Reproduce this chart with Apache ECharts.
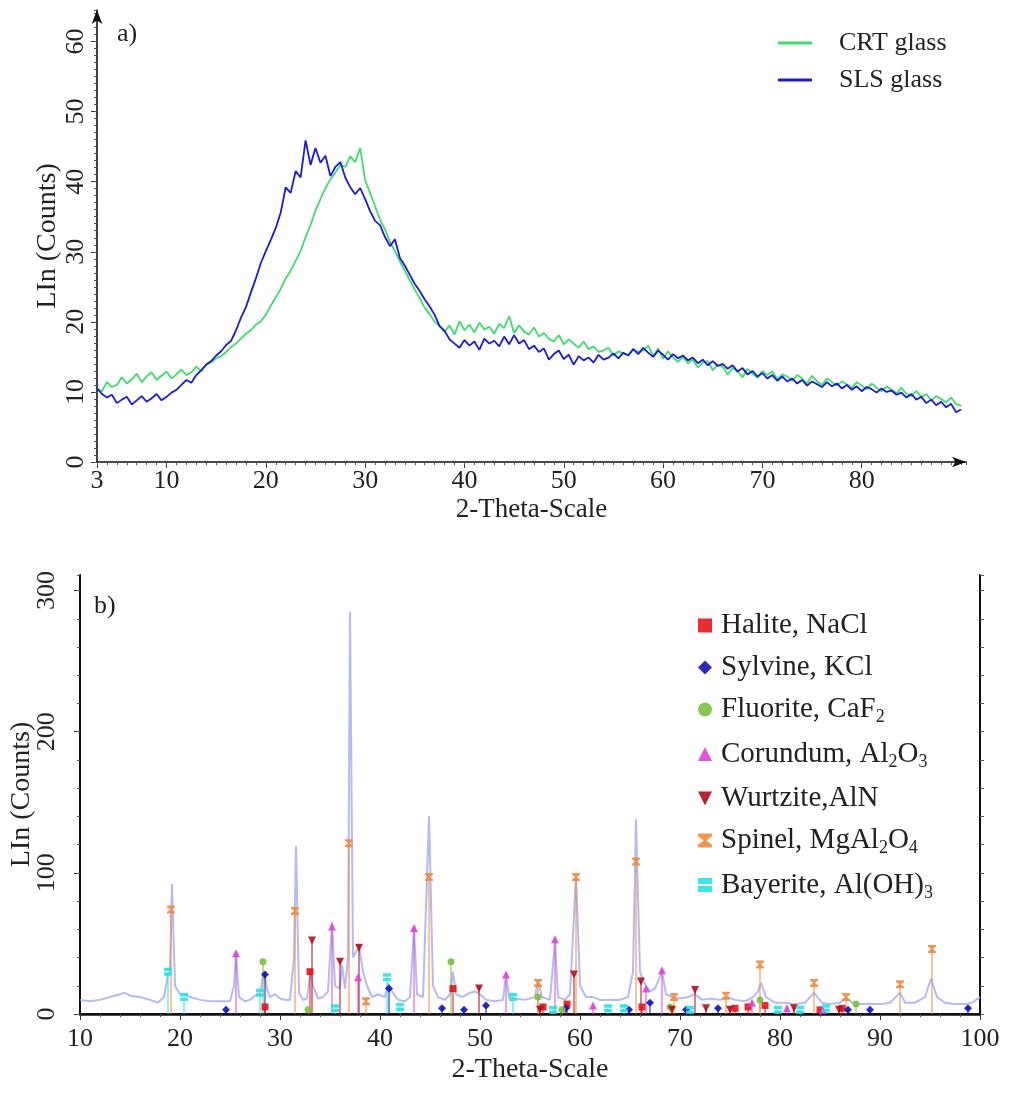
<!DOCTYPE html>
<html>
<head>
<meta charset="utf-8">
<title>XRD patterns</title>
<script src="https://cdn.jsdelivr.net/npm/echarts@6.0.0/dist/echarts.min.js"></script>
<style>
  html, body { margin: 0; padding: 0; background: #fff; }
  #chart { width: 1011px; height: 1093px; }
</style>
</head>
<body>
<div id="chart"></div>
<script>
// ---- (a) amorphous glass scans: 2-theta from 3 deg in 0.5 deg steps ----
const scanStartA = 3;
const scanStepA = 0.5;
const crtGlass = [
  10.5, 10.1, 11.4, 10.7, 11.0, 12.1, 11.2, 11.8, 12.6, 11.4,
  12.2, 12.8, 11.7, 12.3, 12.9, 11.9, 12.5, 13.2, 12.4, 12.8,
  13.6, 12.9, 13.9, 14.2, 14.8, 15.1, 15.7, 16.4, 16.9, 17.6,
  18.3, 18.8, 19.6, 20.1, 21.0, 22.3, 23.5, 24.7, 26.2, 27.3,
  28.7, 30.1, 32.1, 33.8, 35.9, 37.5, 39.1, 40.3, 41.3, 42.4,
  42.1, 43.6, 42.8, 44.8, 40.2, 38.4, 36.5, 34.6, 33.2, 31.4,
  30.1, 28.6, 27.3, 25.9, 24.6, 23.4, 22.0, 21.1, 20.0, 19.4,
  18.6, 19.5, 18.2, 20.1, 18.8, 19.6, 18.5, 19.9, 18.9, 19.3,
  18.3, 19.7, 19.1, 20.8, 18.4, 19.5, 18.6, 18.2, 19.2, 17.9,
  18.4, 17.6, 17.2, 18.1, 16.8, 17.5, 16.9, 16.3, 17.2, 16.1,
  16.5, 15.7, 15.9, 16.3, 15.2, 15.8, 15.5, 15.3, 16.1, 15.7,
  15.9, 16.6, 15.1, 16.2, 14.7, 15.8, 14.9, 14.3, 15.0, 14.1,
  14.6, 13.5, 14.2, 14.4, 13.1, 13.9, 13.6, 12.5, 13.4, 12.9,
  12.1, 13.3, 12.6, 12.0, 13.0, 12.4, 12.9, 11.8, 12.5, 12.2,
  11.6, 12.4, 11.9, 11.2, 12.3, 11.5, 11.0, 11.9, 11.4, 10.9,
  11.5, 11.1, 10.6, 11.4, 10.9, 10.4, 11.2, 10.6, 10.1, 10.8,
  10.3, 9.8, 10.6, 9.7, 9.4, 10.1, 9.3, 9.7, 8.8, 9.4,
  9.0, 8.5, 9.2, 8.3, 8.0
];
const slsGlass = [
  10.5, 9.7, 9.2, 9.6, 8.4, 8.9, 9.3, 8.2, 8.8, 9.4,
  8.6, 9.1, 9.7, 8.8, 9.3, 9.9, 10.3, 11.0, 11.7, 11.3,
  12.4, 13.1, 13.9, 14.4, 15.2, 15.8, 16.7, 17.3, 18.8, 20.6,
  22.1, 24.2, 26.2, 28.4, 30.1, 31.7, 33.4, 35.6, 39.2, 38.4,
  41.5, 40.6, 45.9, 42.4, 44.8, 42.7, 43.7, 40.8, 42.1, 42.8,
  40.6, 39.2, 38.2, 39.1, 37.5, 35.8, 34.4, 33.8, 32.1, 30.8,
  31.8, 29.1, 28.0, 26.7, 25.4, 24.4, 23.2, 22.2, 21.0, 19.4,
  18.7, 17.5, 16.9, 16.3, 17.4, 16.6, 17.2, 16.0, 17.6, 16.9,
  17.3, 16.5, 17.9, 16.8, 18.1, 16.9, 17.4, 16.1, 16.6, 15.7,
  16.2, 14.6, 15.4, 15.9, 14.7, 15.3, 13.9, 15.1, 14.5, 14.9,
  14.2, 15.3, 14.6, 14.9, 15.5, 14.8, 15.6, 15.2, 16.1, 15.4,
  16.3, 15.6, 15.0, 15.9, 15.3, 14.6, 15.4, 14.8, 15.2, 14.5,
  14.9, 14.1, 14.6, 13.8, 14.4, 13.7, 14.0, 13.3, 13.8, 12.9,
  13.4, 12.5, 13.0, 12.2, 12.7, 11.9, 12.4, 11.6, 12.2, 11.5,
  11.9, 11.2, 11.7, 10.9, 11.5, 11.1, 10.7, 11.4, 10.8, 11.2,
  10.5, 11.0, 10.3, 10.8, 10.1, 10.7, 10.4, 9.9, 10.5, 10.0,
  10.2, 9.6, 9.9, 9.2, 9.7, 8.9, 9.3, 8.4, 8.9, 8.1,
  8.6, 7.8, 8.3, 7.1, 7.5
];
const ticksA_x = [3, 10, 20, 30, 40, 50, 60, 70, 80];
const ticksA_y = [0, 10, 20, 30, 40, 50, 60];

// ---- (b) crystallised product: measured pattern [2-theta, counts] ----
const measuredB = [
  [10,10],[11,9],[12,10],[13,12],[14,14],[14.5,15],[15,13],[16,12],[17,10],[17.8,8],
  [18.4,12],[18.8,28],[19.0,30],[19.2,92],[19.5,20],[20,14],[20.5,14],[21,12],[22,10],[23,9],
  [24,9],[25,9],[25.4,20],[25.6,44],[25.9,12],[26.5,9],[27,10],[27.5,13],[28,15],[28.4,30],
  [28.7,18],[29,12],[29.5,14],[30,11],[30.5,10],[31,10],[31.4,40],[31.6,119],[31.9,15],[32.3,10],
  [32.7,11],[33.1,32],[33.3,20],[33.8,11],[34.3,12],[34.8,16],[35.2,65],[35.5,20],[36,18],[36.2,35],
  [36.5,18],[36.8,40],[37.0,285],[37.3,40],[37.9,48],[38.3,30],[38.7,20],[39.2,12],[39.8,14],[40.5,12],
  [40.8,22],[41.2,16],[41.8,10],[42.5,9],[43.0,12],[43.4,62],[43.7,14],[44.3,12],[44.9,140],[45.3,20],
  [45.8,12],[46.5,10],[47.0,14],[47.3,30],[47.6,14],[48.2,12],[49,15],[49.5,16],[50,14],[50.6,10],
  [51.5,9],[52.3,10],[52.6,28],[52.9,12],[53.5,11],[54.5,10],[55.5,12],[55.8,24],[56.2,12],[57,10],
  [57.5,52],[57.8,12],[58.5,10],[59.0,14],[59.6,98],[60.0,20],[60.6,12],[61.3,12],[62,10],[63,10],
  [64,10],[64.8,12],[65.3,30],[65.6,138],[66.0,30],[66.4,22],[67,16],[67.5,18],[68.2,30],[68.6,14],
  [69.2,12],[70,11],[70.8,12],[71.5,14],[72.2,10],[73,11],[74,10],[74.8,12],[75.5,10],[76.5,9],
  [77.3,12],[77.8,16],[78.1,22],[78.6,12],[79.5,8],[80.5,8],[81.5,7],[82.5,8],[83.4,15],[84.2,8],
  [85,7],[86,8],[86.6,12],[87.2,8],[88,7],[89,7],[90,7],[91,8],[92.0,15],[92.5,8],
  [93.5,8],[94.5,12],[95.1,25],[95.7,12],[96.5,8],[97.5,7],[98.5,7],[99.2,8],[100,12]
];

// reference peak positions [2-theta, intensity] for each identified phase
const halite   = [[28.5,5],[33.0,30],[47.3,18],[56.3,5],[58.7,7],[66.2,5],[75.5,4],[76.8,5],[78.5,6],[84.0,3],[86.2,4]];
const sylvine  = [[24.6,3],[28.5,28],[40.9,18],[46.2,4],[48.4,3],[50.6,6],[58.6,4],[64.9,3],[67.0,8],[70.6,3],[73.8,4],[86.8,3],[89.0,3],[98.8,4]];
const fluorite = [[28.3,37],[32.8,3],[47.1,37],[55.8,12],[58.2,3],[69.0,5],[78.0,10],[87.6,7]];
const corundum = [[25.6,43],[35.2,62],[37.8,26],[43.4,61],[52.6,28],[57.5,53],[61.3,6],[66.6,18],[68.2,31],[77.2,8],[80.7,4],[84.3,3]];
const wurtzite = [[33.2,52],[36.0,37],[37.9,47],[49.9,18],[56.0,3],[59.4,28],[66.1,23],[69.2,3],[71.5,17],[72.6,4],[75.0,3],[81.4,4],[85.9,3]];
const spinel   = [[19.1,74],[31.5,73],[36.9,121],[38.6,9],[44.9,97],[55.8,22],[59.6,97],[65.6,108],[69.4,12],[74.6,13],[78.0,35],[83.4,22],[86.6,12],[92.0,21],[95.2,46]];
const bayerite = [[18.8,30],[20.4,12],[28.0,15],[35.5,4],[40.7,26],[42.0,5],[53.3,12],[57.3,3],[62.8,4],[64.4,4],[71.0,3],[79.8,3],[82.0,3],[84.6,4]];
const ticksB_y = [0, 100, 200, 300];

const FONT = "'Liberation Serif', 'DejaVu Serif', 'Times New Roman', serif";
const TEXT = '#222';

const phases = [
  { name: 'Halite, NaCl',      label: 'Halite, NaCl',              data: halite,   color: '#e8141c', symbol: 'rect', size: 7 },
  { name: 'Sylvine, KCl',      label: 'Sylvine, KCl',              data: sylvine,  color: '#1212b8', symbol: 'diamond', size: 8 },
  { name: 'Fluorite, CaF2',    label: 'Fluorite, CaF{s|2}',        data: fluorite, color: '#7cc040', symbol: 'circle', size: 7 },
  { name: 'Corundum, Al2O3',   label: 'Corundum, Al{s|2}O{s|3}',   data: corundum, color: '#e040d8', symbol: 'triangle', size: 8 },
  { name: 'Wurtzite,AlN',      label: 'Wurtzite,AlN',              data: wurtzite, color: '#b00c1c', symbol: 'path://M0,0 L10,0 L5,10 Z', size: 8 },
  { name: 'Spinel, MgAl2O4',   label: 'Spinel, MgAl{s|2}O{s|4}',   data: spinel,   color: '#f08a3c', symbol: 'path://M0,0 L10,0 L10,2 L6,5 L10,8 L10,10 L0,10 L0,8 L4,5 L0,2 Z', size: 8 },
  { name: 'Bayerite, Al(OH)3', label: 'Bayerite, Al(OH){s|3}',     data: bayerite, color: '#22e4e8', symbol: 'path://M0,0 H10 V4.2 H0 Z M0,5.8 H10 V10 H0 Z', size: 8 }
];

// turn 'Al{s|2}O{s|3}' into rich-text tokens: first run padded, subscripts small
function richLabel(label) {
  const parts = label.split(/\{s\|(\d)\}/);
  return parts.map((t, i) => {
    if (i === 0) return '{f|' + t + '}';
    if (i % 2 === 1) return '{s|' + t + '}';
    return t ? '{m|' + t + '}' : '';
  }).join('');
}

// vertical reference sticks drawn through the library's coordinate system
function stickSeries(p) {
  return {
    type: 'custom',
    name: p.name + ' ref',
    xAxisIndex: 2, yAxisIndex: 2,
    data: p.data,
    encode: { x: 0, y: 1 },
    silent: true,
    z: 3,
    renderItem: function (params, api) {
      const top = api.coord([api.value(0), api.value(1)]);
      const base = api.coord([api.value(0), 0]);
      return {
        type: 'line',
        shape: { x1: base[0], y1: base[1], x2: top[0], y2: top[1] },
        style: { stroke: p.color, lineWidth: 2, opacity: 0.5 }
      };
    }
  };
}

function markerSeries(p) {
  return {
    type: 'scatter',
    name: p.name,
    xAxisIndex: 2, yAxisIndex: 2,
    data: p.data,
    symbol: p.symbol,
    symbolSize: p.size,
    itemStyle: { color: p.color, opacity: 0.9 },
    z: 4
  };
}

const toPairs = (arr) => arr.map((v, i) => [scanStartA + i * scanStepA, v]);

const labelStyle = { fontFamily: FONT, fontSize: 26, color: TEXT };
const glassLine = 'path://M0,0 H34 V3 H0 Z';
const legendText = { fontFamily: FONT, fontSize: 29, color: TEXT, lineHeight: 34 };

const option = {
  animation: false,
  backgroundColor: '#fff',
  title: [
    { text: 'a)', left: 112, top: 16, textStyle: { fontFamily: FONT, fontSize: 26, fontWeight: 'normal', color: TEXT } },
    { text: 'b)', left: 89, top: 588, textStyle: { fontFamily: FONT, fontSize: 26, fontWeight: 'normal', color: TEXT } }
  ],
  legend: [
    {
      data: [
        { name: 'CRT glass', icon: glassLine },
        { name: 'SLS glass', icon: glassLine }
      ],
      orient: 'vertical',
      left: 778, top: 30,
      padding: 0,
      itemWidth: 34, itemHeight: 3, itemGap: 11,
      formatter: (n) => '{t|' + n + '}',
      textStyle: { fontFamily: FONT, fontSize: 26, color: TEXT,
        rich: { t: { fontFamily: FONT, fontSize: 26, color: TEXT, padding: [0, 0, 0, 22], lineHeight: 28 } } }
    },
    {
      data: phases.map(p => p.name),
      orient: 'vertical',
      left: 690, top: 605,
      padding: [6, 8, 6, 8],
      backgroundColor: '#fff',
      itemWidth: 14, itemHeight: 14, itemGap: 13,
      formatter: (n) => richLabel(phases.find(p => p.name === n).label),
      textStyle: { fontFamily: FONT, fontSize: 29, color: TEXT,
        rich: {
          f: Object.assign({ padding: [0, 0, 0, 4] }, legendText),
          m: Object.assign({}, legendText),
          s: { fontFamily: FONT, fontSize: 18, color: TEXT, lineHeight: 34, verticalAlign: 'bottom' }
        } }
    }
  ],
  grid: [
    { left: 97, top: 10, width: 869, height: 452, containLabel: false, outerBoundsMode: 'none' },
    { left: 80, top: 575, width: 900, height: 439, containLabel: false, outerBoundsMode: 'none' }
  ],
  xAxis: [
    { // (a) bottom axis with labels
      type: 'value', gridIndex: 0, min: 3, max: 90.5, position: 'bottom',
      axisLine: { show: true, symbol: ['none', 'arrow'], symbolSize: [8, 14], lineStyle: { color: '#111', width: 1.6 } },
      axisTick: { show: true, customValues: ticksA_x, length: 6, lineStyle: { color: '#333' } },
      axisLabel: { customValues: ticksA_x, margin: 6, ...labelStyle },
      splitLine: { show: false },
      name: '2-Theta-Scale', nameLocation: 'middle', nameGap: 34, nameMoveOverlap: false,
      nameTextStyle: { fontFamily: FONT, fontSize: 27, color: TEXT }
    },
    { // (a) fine ticks
      type: 'value', gridIndex: 0, min: 3, max: 90.5, interval: 1, position: 'bottom',
      axisLine: { show: false }, axisLabel: { show: false }, splitLine: { show: false },
      axisTick: { show: true, length: 3, lineStyle: { color: '#555' } }
    },
    { // (b) bottom axis
      type: 'value', gridIndex: 1, min: 10, max: 100, interval: 10, position: 'bottom',
      axisLine: { show: true, lineStyle: { color: '#111', width: 2.6 } },
      axisTick: { show: true, length: 6, lineStyle: { color: '#333' } },
      minorTick: { show: true, splitNumber: 5, length: 3, lineStyle: { color: '#555' } },
      axisLabel: { margin: 12, ...labelStyle },
      splitLine: { show: false },
      name: '2-Theta-Scale', nameLocation: 'middle', nameGap: 42, nameMoveOverlap: false,
      nameTextStyle: { fontFamily: FONT, fontSize: 28, color: TEXT }
    },
    { // (b) top frame
      type: 'value', gridIndex: 1, min: 10, max: 100, interval: 10, position: 'top',
      axisLine: { show: true, lineStyle: { color: '#111', width: 2 } },
      axisTick: { show: true, inside: true, length: 5, lineStyle: { color: '#333' } },
      minorTick: { show: true, splitNumber: 5, length: 3, lineStyle: { color: '#555' } },
      axisLabel: { show: false }, splitLine: { show: false }
    }
  ],
  yAxis: [
    { // (a) left axis with labels
      type: 'value', gridIndex: 0, min: 0, max: 64.5, position: 'left',
      axisLine: { show: true, symbol: ['none', 'arrow'], symbolSize: [8, 14], lineStyle: { color: '#111', width: 1.6 } },
      axisTick: { show: true, customValues: ticksA_y, length: 6, lineStyle: { color: '#333' } },
      axisLabel: { customValues: ticksA_y, rotate: 90, margin: 8, ...labelStyle },
      splitLine: { show: false },
      name: 'LIn (Counts)', nameLocation: 'middle', nameGap: 35, nameRotate: 90, nameMoveOverlap: false,
      nameTextStyle: { fontFamily: FONT, fontSize: 28, color: TEXT }
    },
    { // (a) fine ticks
      type: 'value', gridIndex: 0, min: 0, max: 64.5, interval: 1, position: 'left',
      axisLine: { show: false }, axisLabel: { show: false }, splitLine: { show: false },
      axisTick: { show: true, length: 3, lineStyle: { color: '#555' } }
    },
    { // (b) left axis with labels
      type: 'value', gridIndex: 1, min: 0, max: 311, position: 'left',
      axisLine: { show: true, lineStyle: { color: '#111', width: 2 } },
      axisTick: { show: true, customValues: ticksB_y, length: 6, lineStyle: { color: '#333' } },
      axisLabel: { customValues: ticksB_y, rotate: 90, margin: 20, ...labelStyle },
      splitLine: { show: false },
      name: 'LIn (Counts)', nameLocation: 'middle', nameGap: 44, nameRotate: 90, nameMoveOverlap: false,
      nameTextStyle: { fontFamily: FONT, fontSize: 28, color: TEXT }
    },
    { // (b) right frame
      type: 'value', gridIndex: 1, min: 0, max: 311, interval: 20, position: 'right',
      axisLine: { show: true, lineStyle: { color: '#111', width: 2 } },
      axisTick: { show: true, length: 4, lineStyle: { color: '#555' } },
      axisLabel: { show: false }, splitLine: { show: false }
    },
    { // (b) fine ticks on the left
      type: 'value', gridIndex: 1, min: 0, max: 311, interval: 20, position: 'left',
      axisLine: { show: false }, axisLabel: { show: false }, splitLine: { show: false },
      axisTick: { show: true, length: 3, lineStyle: { color: '#555' } }
    }
  ],
  series: [
    {
      type: 'line', name: 'CRT glass', xAxisIndex: 0, yAxisIndex: 0,
      data: toPairs(crtGlass), symbol: 'none', z: 2,
      lineStyle: { color: '#3fdc6c', width: 1.8 }, itemStyle: { color: '#3fdc6c' }
    },
    {
      type: 'line', name: 'SLS glass', xAxisIndex: 0, yAxisIndex: 0,
      data: toPairs(slsGlass), symbol: 'none', z: 3,
      lineStyle: { color: '#1c1ccc', width: 1.8 }, itemStyle: { color: '#1c1ccc' }
    },
    {
      type: 'line', name: 'measured', xAxisIndex: 2, yAxisIndex: 2,
      data: measuredB, symbol: 'none', z: 2,
      lineStyle: { color: '#a7aef0', width: 2, opacity: 0.85 }
    },
    ...phases.map(stickSeries),
    ...phases.map(markerSeries)
  ]
};

const chart = echarts.init(document.getElementById('chart'), null, { renderer: 'canvas' });
chart.setOption(option);
</script>
</body>
</html>
